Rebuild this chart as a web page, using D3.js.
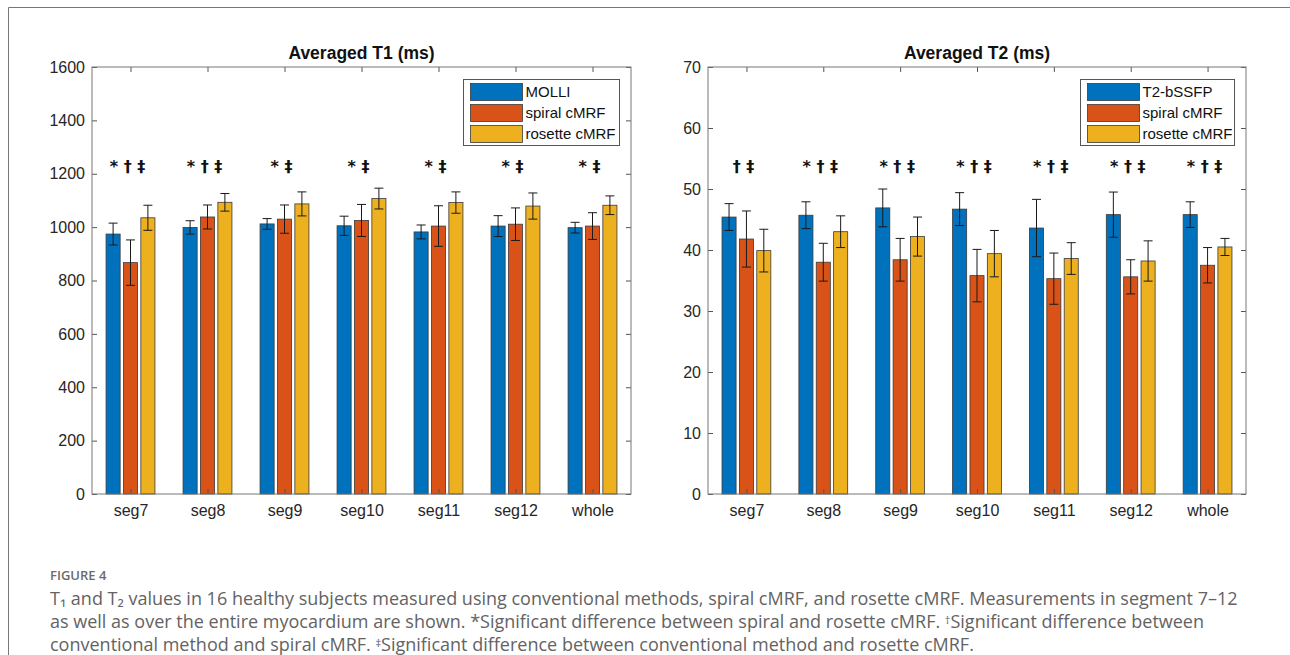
<!DOCTYPE html>
<html>
<head>
<meta charset="utf-8">
<script src="https://cdn.jsdelivr.net/npm/d3@7"></script>
<style>
  body { margin: 0; background: #fff; }
  svg { display: block; }
</style>
</head>
<body>
<svg width="1290" height="655"></svg>
<script>
var width = 1290;
var height = 655;

// categories (x axis)
var segments = ["seg7", "seg8", "seg9", "seg10", "seg11", "seg12", "whole"];

// T1 panel
var t1Series = ["MOLLI", "spiral cMRF", "rosette cMRF"];
var t1Molli     = [974, 999, 1012, 1005, 982, 1004, 998];
var t1MolliSd   = [41, 25, 20, 36, 26, 39, 20];
var t1Spiral    = [867, 1038, 1030, 1025, 1004, 1011, 1004];
var t1SpiralSd  = [85, 45, 53, 60, 76, 61, 50];
var t1Rosette   = [1035, 1093, 1087, 1107, 1092, 1079, 1082];
var t1RosetteSd = [47, 33, 45, 39, 40, 49, 35];
var t1Marks = ["* \u2020 \u2021", "* \u2020 \u2021", "* \u2021", "* \u2021", "* \u2021", "* \u2021", "* \u2021"];
var t1Ticks = [0, 200, 400, 600, 800, 1000, 1200, 1400, 1600];

// T2 panel
var t2Series = ["T2-bSSFP", "spiral cMRF", "rosette cMRF"];
var t2Bssfp     = [45.4, 45.7, 46.9, 46.7, 43.6, 45.8, 45.8];
var t2BssfpSd   = [2.2, 2.2, 3.1, 2.7, 4.7, 3.7, 2.1];
var t2Spiral    = [41.8, 38.0, 38.4, 35.8, 35.3, 35.6, 37.5];
var t2SpiralSd  = [4.6, 3.1, 3.5, 4.3, 4.2, 2.8, 2.9];
var t2Rosette   = [39.9, 43.0, 42.2, 39.4, 38.6, 38.2, 40.5];
var t2RosetteSd = [3.5, 2.6, 3.2, 3.8, 2.6, 3.3, 1.4];
var t2Marks = ["\u2020 \u2021", "* \u2020 \u2021", "* \u2020 \u2021", "* \u2020 \u2021", "* \u2020 \u2021", "* \u2020 \u2021", "* \u2020 \u2021"];
var t2Ticks = [0, 10, 20, 30, 40, 50, 60, 70];

var colors = ["#0072BD", "#D95319", "#EDB120"];
var axisFont = "'Liberation Sans', Arial, sans-serif";

var svg = d3.select("svg");

// page border (journal frame)
svg.append("line").attr("x1", 8.5).attr("x2", 8.5).attr("y1", 7.5).attr("y2", height)
  .attr("stroke", "#777").attr("stroke-width", 1);
svg.append("line").attr("x1", 8.5).attr("x2", width).attr("y1", 7.5).attr("y2", 7.5)
  .attr("stroke", "#777").attr("stroke-width", 1);

function drawPanel(p) {
  var xScale = d3.scaleLinear().domain([0.5, segments.length + 0.5]).range([p.left, p.right]);
  var yScale = d3.scaleLinear().domain([0, p.max]).range([p.bottom, p.top]);
  var unit = xScale(2) - xScale(1);
  var offsets = [-0.226, 0, 0.226];
  var barW = 0.183 * unit;
  var g = svg.append("g");

  // title
  g.append("text")
    .attr("x", (p.left + p.right) / 2)
    .attr("y", p.top - 8)
    .attr("text-anchor", "middle")
    .style("font-family", axisFont)
    .style("font-size", "17.5px")
    .style("font-weight", "bold")
    .attr("fill", "#111")
    .text(p.title);

  // bars + error bars
  p.series.forEach(function (s, k) {
    var rows = segments.map(function (c, i) {
      return {i: i + 1, v: p.means[k][i], sd: p.sds[k][i]};
    });
    var sg = g.append("g");
    sg.selectAll("rect").data(rows).enter().append("rect")
      .attr("x", function (d) { return xScale(d.i + offsets[k]) - barW / 2; })
      .attr("y", function (d) { return yScale(d.v); })
      .attr("width", barW)
      .attr("height", function (d) { return yScale(0) - yScale(d.v); })
      .attr("fill", colors[k])
      .attr("stroke", "#3a3a3a")
      .attr("stroke-width", 0.8);

    var eg = sg.selectAll("g.err").data(rows).enter().append("g").attr("class", "err")
      .attr("stroke", "#1a1a1a").attr("stroke-width", 1);
    eg.append("line")
      .attr("x1", function (d) { return xScale(d.i + offsets[k]); })
      .attr("x2", function (d) { return xScale(d.i + offsets[k]); })
      .attr("y1", function (d) { return yScale(d.v - d.sd); })
      .attr("y2", function (d) { return yScale(d.v + d.sd); });
    [-1, 1].forEach(function (sgn) {
      eg.append("line")
        .attr("x1", function (d) { return xScale(d.i + offsets[k]) - 4.5; })
        .attr("x2", function (d) { return xScale(d.i + offsets[k]) + 4.5; })
        .attr("y1", function (d) { return yScale(d.v + sgn * d.sd); })
        .attr("y2", function (d) { return yScale(d.v + sgn * d.sd); });
    });
  });

  // significance marks
  g.selectAll("text.mark").data(p.marks).enter().append("text")
    .attr("class", "mark")
    .attr("x", function (d, i) { return xScale(i + 1) - 3; })
    .attr("y", 172)
    .attr("text-anchor", "middle")
    .style("font-family", "'DejaVu Sans', sans-serif")
    .style("font-size", "16px")
    .style("font-weight", "bold")
    .attr("fill", "#111")
    .text(function (d) { return d; });

  // axes (MATLAB style: inward ticks, boxed)
  var ticksX = segments.map(function (c, i) { return i + 1; });
  var left = g.append("g").attr("transform", "translate(" + p.left + ",0)")
    .call(d3.axisLeft(yScale).tickValues(p.ticks).tickSize(-5).tickSizeOuter(0).tickPadding(7)
      .tickFormat(d3.format("d")));
  var right = g.append("g").attr("transform", "translate(" + p.right + ",0)")
    .call(d3.axisRight(yScale).tickValues(p.ticks).tickSize(-5).tickSizeOuter(0).tickFormat(""));
  var bottom = g.append("g").attr("transform", "translate(0," + p.bottom + ")")
    .call(d3.axisBottom(xScale).tickValues(ticksX).tickSize(-5).tickSizeOuter(0).tickPadding(11)
      .tickFormat(function (d) { return segments[d - 1]; }));
  var top = g.append("g").attr("transform", "translate(0," + p.top + ")")
    .call(d3.axisTop(xScale).tickValues(ticksX).tickSize(-5).tickSizeOuter(0).tickFormat(""));

  [left, right, bottom, top].forEach(function (a) {
    a.select(".domain").remove();
    a.selectAll(".tick line").attr("stroke", "#555");
    a.selectAll("text")
      .style("font-family", axisFont)
      .style("font-size", "16px")
      .attr("fill", "#262626");
  });

  g.append("rect")
    .attr("x", p.left).attr("y", p.top)
    .attr("width", p.right - p.left).attr("height", p.bottom - p.top)
    .attr("fill", "none").attr("stroke", "#777").attr("stroke-width", 1);

  // legend
  var lg = g.append("g").attr("transform", "translate(" + p.legendX + "," + p.legendY + ")");
  lg.append("rect").attr("x", 0).attr("y", 0).attr("width", p.legendW).attr("height", 66)
    .attr("fill", "#fff").attr("stroke", "#555").attr("stroke-width", 1);
  p.series.forEach(function (s, k) {
    lg.append("rect").attr("x", 7).attr("y", 4 + k * 21).attr("width", 52).attr("height", 17)
      .attr("fill", colors[k]).attr("stroke", "#3a3a3a").attr("stroke-width", 0.8);
    lg.append("text").attr("x", 62).attr("y", 12.5 + k * 21).attr("dy", "0.35em")
      .style("font-family", axisFont).style("font-size", "15px")
      .attr("fill", "#111").text(s);
  });
}

drawPanel({
  title: "Averaged T1 (ms)", left: 92, right: 631, top: 67, bottom: 494, max: 1600,
  series: t1Series, means: [t1Molli, t1Spiral, t1Rosette], sds: [t1MolliSd, t1SpiralSd, t1RosetteSd],
  marks: t1Marks, ticks: t1Ticks, legendX: 463.5, legendY: 79.5, legendW: 156
});

drawPanel({
  title: "Averaged T2 (ms)", left: 708, right: 1246, top: 67, bottom: 494, max: 70,
  series: t2Series, means: [t2Bssfp, t2Spiral, t2Rosette], sds: [t2BssfpSd, t2SpiralSd, t2RosetteSd],
  marks: t2Marks, ticks: t2Ticks, legendX: 1080.5, legendY: 79.5, legendW: 154
});

// caption
var capFont = "'Open Sans', 'Noto Sans', sans-serif";
svg.append("text").attr("x", 50).attr("y", 580)
  .style("font-family", capFont).style("font-size", "13px").style("font-weight", "600")
  .attr("fill", "#6b6b6b").text("FIGURE 4");

var capLines = [
  [["T\u2081 and T\u2082 values in 16 healthy subjects measured using conventional methods, spiral cMRF, and rosette cMRF. Measurements in segment 7\u201312", ""]],
  [["as well as over the entire myocardium are shown. *Significant difference between spiral and rosette cMRF. ", ""], ["\u2020", "sup"], ["Significant difference between", ""]],
  [["conventional method and spiral cMRF. ", ""], ["\u2021", "sup"], ["Significant difference between conventional method and rosette cMRF.", ""]]
];
capLines.forEach(function (line, li) {
  var t = svg.append("text").attr("x", 50).attr("y", 605 + li * 23)
    .style("font-family", capFont).style("font-size", "18px").attr("fill", "#636363");
  line.forEach(function (seg) {
    var ts = t.append("tspan").text(seg[0]);
    if (seg[1] === "sup") ts.attr("baseline-shift", "40%").style("font-size", "11px");
  });
});
</script>
</body>
</html>
